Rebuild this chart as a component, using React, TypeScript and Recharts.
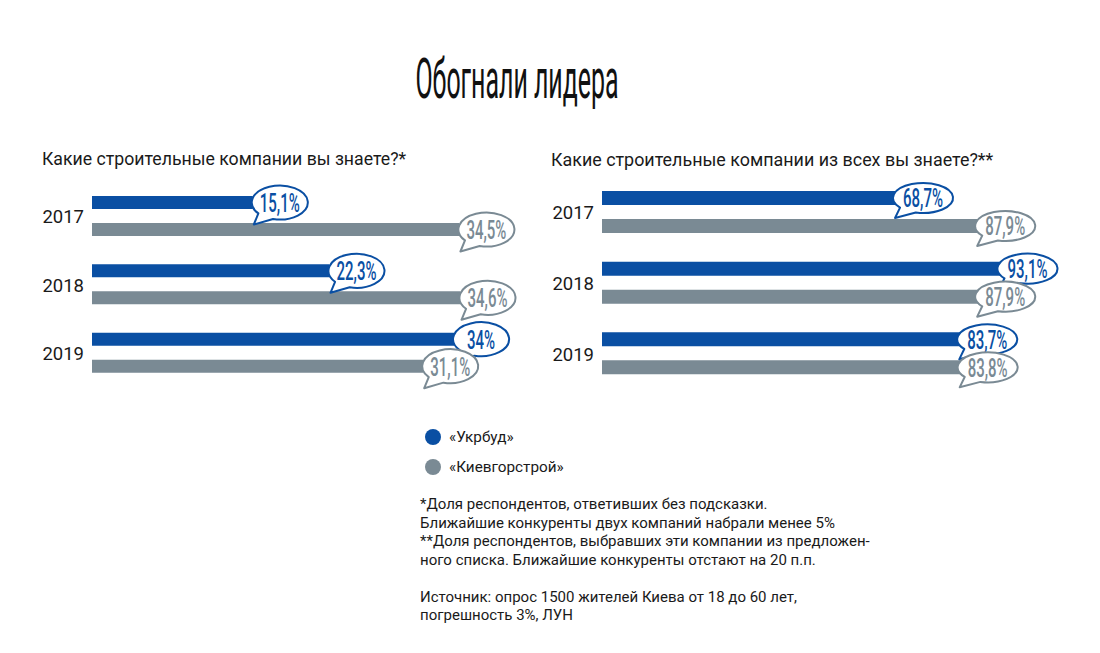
import React from 'react';
import { BarChart, Bar, XAxis, YAxis, LabelList } from 'recharts';

const BLUE = '#0a4fa3';
const GRAY = '#7a8a94';
const FONT = 'Roboto, "Noto Sans", sans-serif';

const years = ['2017', '2018', '2019'];
const ukrbudUnaided = [15.1, 22.3, 34];
const kievUnaided = [34.5, 34.6, 31.1];
const ukrbudAided = [68.7, 93.1, 83.7];
const kievAided = [87.9, 87.9, 83.8];

const seriesNames = ['«Укрбуд»', '«Киевгорстрой»'];
const titleText = 'Обогнали лидера';
const leftQuestion = 'Какие строительные компании вы знаете?*';
const rightQuestion = 'Какие строительные компании из всех вы знаете?**';
const footnotes = [
  '*Доля респондентов, ответивших без подсказки.',
  'Ближайшие конкуренты двух компаний набрали менее 5%',
  '**Доля респондентов, выбравших эти компании из предложен-',
  'ного списка. Ближайшие конкуренты отстают на 20 п.п.',
  '',
  'Источник: опрос 1500 жителей Киева от 18 до 60 лет,',
  'погрешность 3%, ЛУН',
];

const leftData = years.map((year, i) => ({ year, ukr: ukrbudUnaided[i], kiev: kievUnaided[i] }));
const rightData = years.map((year, i) => ({ year, ukr: ukrbudAided[i], kiev: kievAided[i] }));

const fmt = (v: number) => String(v).replace('.', ',') + '%';

// speech bubble sitting at the end of a bar, tail pointing down-left
const makeBubble = (color: string, rx: number, ry: number) => (props: any) => {
  const { x, y, width, height, value } = props;
  const cx = Number(x) + Number(width) + 27;
  const cy = Number(y) + Number(height) / 2;
  const pt = (deg: number) => {
    const a = (deg * Math.PI) / 180;
    return [cx + rx * Math.cos(a), cy + ry * Math.sin(a)];
  };
  const [ax, ay] = pt(140);
  const [bx, by] = pt(104);
  const tx = cx - rx + 2;
  const ty = cy + ry + 5;
  const d = `M${ax},${ay} A${rx},${ry} 0 1 1 ${bx},${by} L${tx},${ty} Z`;
  return (
    <g>
      <path d={d} fill="#fff" stroke={color} strokeWidth={2} strokeLinejoin="round" />
      <g transform={`translate(${cx},${cy + 1}) scale(0.6,1)`}>
        <text
          x={0}
          y={0}
          textAnchor="middle"
          dominantBaseline="central"
          fill={color}
          fontFamily={FONT}
          fontWeight={500}
          fontSize={25}
        >
          {fmt(value)}
        </text>
      </g>
    </g>
  );
};

const YearTick = (props: any) => {
  const { x, y, payload } = props;
  return (
    <text x={x} y={y + 1} textAnchor="end" dominantBaseline="central" fill="#1a1a1a" fontFamily={FONT} fontSize={18.5}>
      {payload.value}
    </text>
  );
};

type PanelProps = {
  data: { year: string; ukr: number; kiev: number }[];
  max: number;
  left: number;
  width: number;
  margin: { top: number; right: number; bottom: number; left: number };
  barSize: number;
  barGap: number;
  rx: number;
  ry: number;
};

const Panel = ({ data, max, left, width, margin, barSize, barGap, rx, ry }: PanelProps) => (
  <div style={{ position: 'absolute', left, top: 170 }}>
    <BarChart
      width={width}
      height={230}
      data={data}
      layout="vertical"
      margin={margin}
      barSize={barSize}
      barGap={barGap}
      style={{ overflow: 'visible' }}
    >
      <XAxis type="number" domain={[0, max]} hide />
      <YAxis type="category" dataKey="year" width={92} axisLine={false} tickLine={false} tick={<YearTick />} />
      <Bar dataKey="ukr" fill={BLUE} isAnimationActive={false}>
        <LabelList dataKey="ukr" content={makeBubble(BLUE, rx, ry)} />
      </Bar>
      <Bar dataKey="kiev" fill={GRAY} isAnimationActive={false}>
        <LabelList dataKey="kiev" content={makeBubble(GRAY, rx, ry)} />
      </Bar>
    </BarChart>
  </div>
);

export default function App() {
  return (
    <div
      style={{
        position: 'absolute',
        left: 0,
        top: 0,
        width: 1100,
        height: 653,
        background: '#fff',
        fontFamily: FONT,
        color: '#1a1a1a',
        overflow: 'hidden',
      }}
    >
      <div
        style={{
          position: 'absolute',
          left: 217,
          width: 600,
          top: 47,
          textAlign: 'center',
          fontSize: 56,
          fontWeight: 400,
          lineHeight: '64px',
          transform: 'scaleX(0.445)',
          color: '#111',
        }}
      >
        {titleText}
      </div>
      <div style={{ position: 'absolute', left: 42, top: 149, fontSize: 17.7 }}>{leftQuestion}</div>
      <div style={{ position: 'absolute', left: 551, top: 149, fontSize: 17.9 }}>{rightQuestion}</div>

      <Panel
        data={leftData}
        max={40}
        left={0}
        width={540}
        margin={{ top: 12, right: 22, bottom: 13, left: 0 }}
        barSize={13}
        barGap={14}
        rx={28}
        ry={17}
      />
      <Panel
        data={rightData}
        max={100}
        left={510}
        width={590}
        margin={{ top: 7, right: 70, bottom: 11, left: 0 }}
        barSize={14}
        barGap={14}
        rx={30}
        ry={15}
      />

      {seriesNames.map((name, i) => (
        <div
          key={name}
          style={{ position: 'absolute', left: 425, top: 428 + i * 30, height: 18, display: 'flex', alignItems: 'center', fontSize: 15.3 }}
        >
          <span
            style={{
              display: 'inline-block',
              width: 16,
              height: 16,
              borderRadius: 8,
              background: i === 0 ? BLUE : GRAY,
              marginRight: 8,
            }}
          />
          {name}
        </div>
      ))}

      <div style={{ position: 'absolute', left: 420, top: 495, fontSize: 15, lineHeight: '18.5px' }}>
        {footnotes.map((line, i) => (
          <div key={i} style={{ height: 18.5, whiteSpace: 'nowrap' }}>
            {line}
          </div>
        ))}
      </div>
    </div>
  );
}
